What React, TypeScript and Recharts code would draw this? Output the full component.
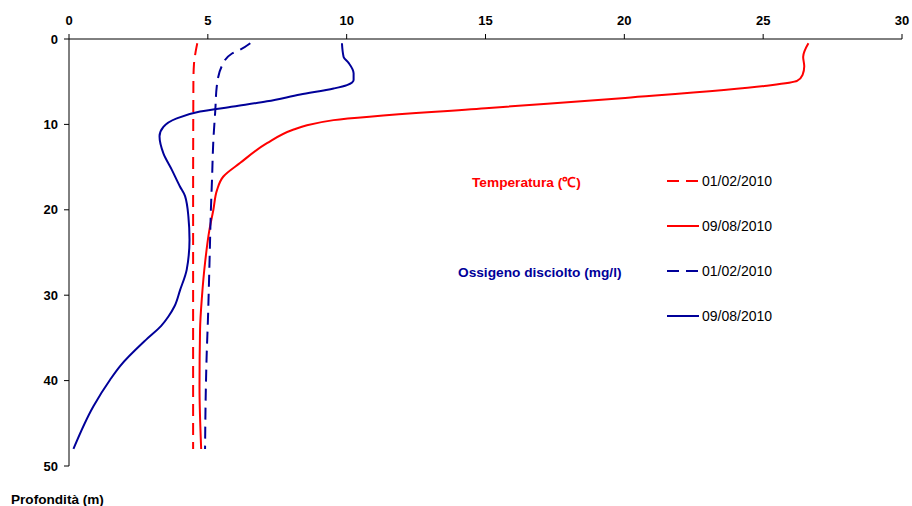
import { Scatter, ScatterChart, XAxis, YAxis } from 'recharts';

const RED = '#ff0000';
const BLUE = '#000099';
const DASH = '12 7';

const xTicks = [0, 5, 10, 15, 20, 25, 30];
const depthTicks = [0, 10, 20, 30, 40, 50];

// Temperatura 01/02/2010
const tempFebDepth = [0.5, 1.5, 3, 5, 20, 35, 48];
const tempFebVal = [4.62, 4.56, 4.5, 4.48, 4.47, 4.47, 4.47];

// Temperatura 09/08/2010
const tempAugDepth = [0.5, 2.1, 3.2, 4.2, 4.9, 5.5, 6.9, 8.1, 9.5, 10.1, 10.6, 12.2, 14.5, 16.1, 17.7, 20, 22.3, 26.2, 30.1, 34, 40.7, 48];
const tempAugVal = [26.63, 26.44, 26.48, 26.42, 26.22, 25.04, 20.03, 15.0, 9.53, 8.57, 8.09, 7.13, 6.17, 5.56, 5.33, 5.2, 5.06, 4.9, 4.79, 4.72, 4.7, 4.76];

// Ossigeno disciolto 01/02/2010
const oxyFebDepth = [0.5, 1.3, 1.7, 3.2, 5.6, 8.3, 11.8, 16.5, 20, 26.2, 33.2, 36.8, 40.7, 48];
const oxyFebVal = [6.53, 6.14, 5.87, 5.5, 5.32, 5.27, 5.2, 5.15, 5.11, 5.06, 5.0, 4.96, 4.93, 4.9];

// Ossigeno disciolto 09/08/2010
const oxyAugDepth = [0.5, 2.1, 2.8, 4.0, 4.8, 5.4, 5.8, 6.5, 7.3, 7.9, 8.5, 9.3, 10.3, 11.4, 13.4, 15.3, 17.3, 18.4, 20.8, 23.5, 27, 29.4, 31.3, 32.5, 33.6, 35.2, 38.3, 39.9, 43, 48];
const oxyAugVal = [9.83, 9.89, 10.07, 10.25, 10.25, 10.01, 9.53, 8.33, 7.13, 5.92, 4.72, 3.88, 3.4, 3.26, 3.4, 3.7, 4.0, 4.18, 4.3, 4.34, 4.24, 4.0, 3.8, 3.58, 3.32, 2.78, 1.84, 1.48, 0.88, 0.16];

const pairs = (depth: number[], val: number[]) => depth.map((d, i) => ({ x: val[i], y: d }));

const FONT = 'Liberation Sans, Arial, sans-serif';
const TICK = { fontSize: 13, fontWeight: 700, fill: '#000', fontFamily: FONT };

const series = [
  { key: 'tf', data: pairs(tempFebDepth, tempFebVal), color: RED, dash: DASH },
  { key: 'ta', data: pairs(tempAugDepth, tempAugVal), color: RED, dash: undefined },
  { key: 'of', data: pairs(oxyFebDepth, oxyFebVal), color: BLUE, dash: DASH },
  { key: 'oa', data: pairs(oxyAugDepth, oxyAugVal), color: BLUE, dash: undefined },
];

const legendRows = [
  { y: 181, color: RED, dash: DASH, label: '01/02/2010' },
  { y: 226, color: RED, dash: undefined, label: '09/08/2010' },
  { y: 271, color: BLUE, dash: DASH, label: '01/02/2010' },
  { y: 316, color: BLUE, dash: undefined, label: '09/08/2010' },
];

export default function App() {
  return (
    <div style={{ position: 'absolute', left: 0, top: 0, width: 912, height: 506, background: '#fff', fontFamily: FONT }}>
      <ScatterChart width={912} height={506} margin={{ top: 9, right: 10, bottom: 40, left: 9 }}>
        <XAxis
          type="number"
          dataKey="x"
          orientation="top"
          domain={[0, 30]}
          ticks={xTicks}
          tick={TICK}
          tickSize={5}
          tickMargin={9}
          height={30}
          stroke="#000"
          allowDataOverflow
        />
        <YAxis
          type="number"
          dataKey="y"
          domain={[0, 50]}
          ticks={depthTicks}
          reversed
          tick={TICK}
          tickSize={5}
          tickMargin={6}
          width={60}
          stroke="#000"
          allowDataOverflow
        />
        {series.map((s) => (
          <Scatter
            key={s.key}
            data={s.data}
            fill={s.color}
            shape={() => <g />}
            line={{ stroke: s.color, strokeWidth: 2, strokeDasharray: s.dash }}
            lineJointType="monotoneY"
            isAnimationActive={false}
          />
        ))}
      </ScatterChart>

      <div style={{ position: 'absolute', left: 472, top: 172, color: RED, fontWeight: 700, fontSize: 13.7, whiteSpace: 'nowrap' }}>
        Temperatura (℃)
      </div>
      <div style={{ position: 'absolute', left: 458, top: 265, color: BLUE, fontWeight: 700, fontSize: 13.7, whiteSpace: 'nowrap' }}>
        Ossigeno disciolto (mg/l)
      </div>
      {legendRows.map((r, i) => (
        <div key={i} style={{ position: 'absolute', left: 667, top: r.y - 9, height: 18, display: 'flex', alignItems: 'center' }}>
          <svg width={33} height={18}>
            <line x1={0} y1={9} x2={32} y2={9} stroke={r.color} strokeWidth={2} strokeDasharray={r.dash} />
          </svg>
          <span style={{ fontSize: 14, color: '#000', marginLeft: 2, whiteSpace: 'nowrap' }}>{r.label}</span>
        </div>
      ))}
      <div style={{ position: 'absolute', left: 11, top: 492, fontWeight: 700, fontSize: 13.6, whiteSpace: 'nowrap' }}>
        Profondità (m)
      </div>
    </div>
  );
}
